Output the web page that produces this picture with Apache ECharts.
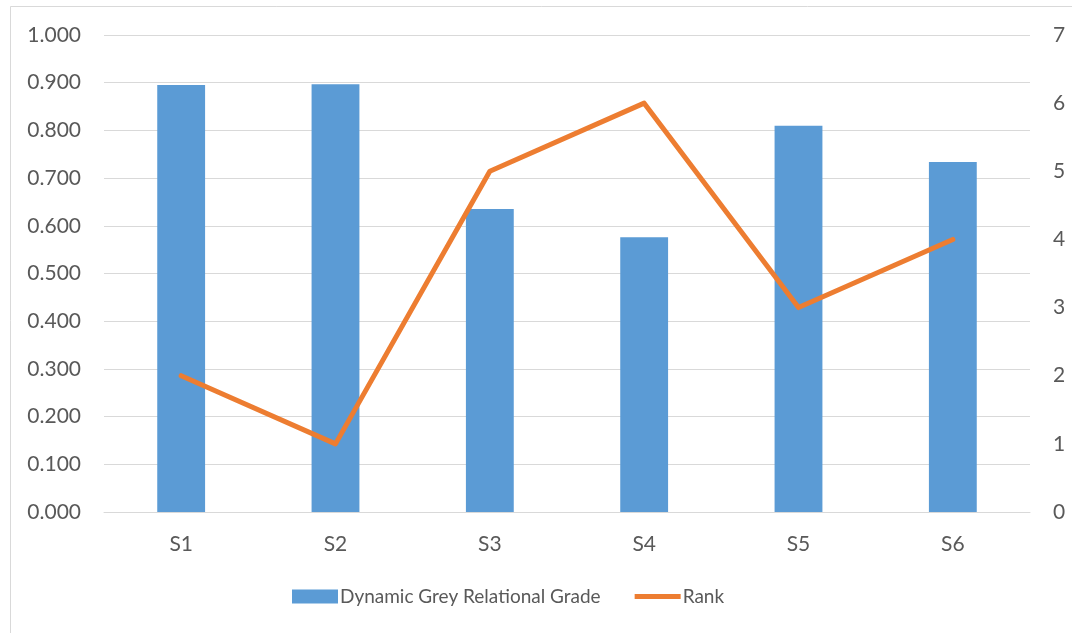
<!DOCTYPE html>
<html><head><meta charset="utf-8">
<script src="https://cdn.jsdelivr.net/npm/echarts@6/dist/echarts.min.js"></script>
<style>html,body{margin:0;padding:0;background:#fff}#c{width:1072px;height:633px}</style>
</head><body><div id="c"></div>
<script>
const categories = ['S1','S2','S3','S4','S5','S6'];
const gradeValues = [0.895, 0.897, 0.635, 0.576, 0.810, 0.734];
const rankValues = [2, 1, 5, 6, 3, 4];
const seriesNames = ['Dynamic Grey Relational Grade', 'Rank'];

const font = 'Lato, "Open Sans", sans-serif';
const txt = '#595959';
const chart = echarts.init(document.getElementById('c'), null, {renderer:'canvas'});
chart.setOption({
  animation: false,
  backgroundColor: '#fff',
  textStyle: {fontFamily: font},
  graphic: [{type:'rect', shape:{x:10.5, y:6.5, width:1080, height:640}, style:{fill:'none', stroke:'#d9d9d9', lineWidth:1}, silent:true}],
  grid: {left:104, right:42, top:35, bottom:121, containLabel:false},
  legend: {
    bottom: 22, left: 287, itemGap: 34, itemWidth: 46, itemHeight: 14,
    textStyle: {color: txt, fontSize: 19, fontFamily: font, padding:[0,0,0,-3]},
    data: [
      {name: seriesNames[0], icon: 'rect'},
      {name: seriesNames[1], icon: 'path://M0,4.5 L46,4.5 L46,9.5 L0,9.5 Z M0,0 L0.01,0 M0,14 L0.01,14',
       itemStyle:{color:'#ED7D31', borderWidth:0}}
    ]
  },
  xAxis: {
    type: 'category', data: categories,
    axisLine: {lineStyle:{color:'#d9d9d9', width:1}},
    axisTick: {show:false},
    axisLabel: {color: txt, fontSize: 21, margin: 22, fontFamily: font}
  },
  yAxis: [{
    type:'value', min:0, max:1, interval:0.1,
    axisLine:{show:false}, axisTick:{show:false},
    splitLine:{lineStyle:{color:'#d9d9d9', width:1}},
    axisLabel:{color:txt, fontSize:21, margin:23, fontFamily:font, formatter: v => v.toFixed(3)}
  },{
    type:'value', min:0, max:7, interval:1,
    axisLine:{show:false}, axisTick:{show:false}, splitLine:{show:false},
    axisLabel:{color:txt, fontSize:21, margin:23, fontFamily:font}
  }],
  series: [{
    name: seriesNames[0], type:'bar', data: gradeValues, barWidth: '31%',
    itemStyle:{color:'#5B9BD5'}
  },{
    name: seriesNames[1], type:'line', yAxisIndex:1, data: rankValues,
    showSymbol:false, symbol:'none',
    lineStyle:{color:'#ED7D31', width:5, cap:'round', join:'round'},
    itemStyle:{color:'#ED7D31'}
  }]
});
</script></body></html>
